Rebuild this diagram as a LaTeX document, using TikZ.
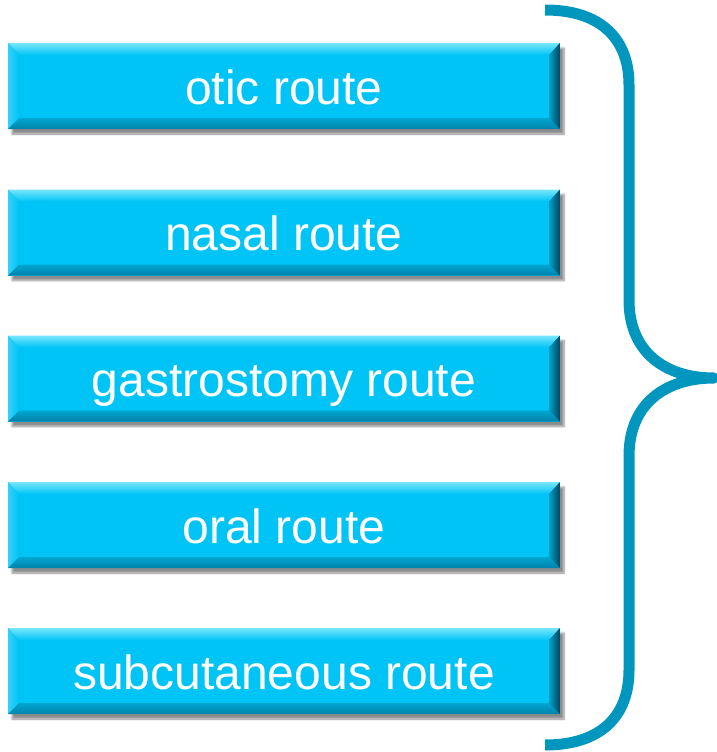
\documentclass[tikz,border=0pt]{standalone}
\usepackage{fontspec}
\setmainfont{Liberation Sans}
\usetikzlibrary{calc,shadows.blur}
\definecolor{boxfill}{RGB}{0,196,246}
\definecolor{boxlight}{RGB}{120,230,252}
\definecolor{boxdark}{RGB}{0,130,170}
\definecolor{boxdeep}{RGB}{0,70,95}
\definecolor{bracecol}{RGB}{0,150,190}
\tikzset{
  routebox/.style={
    minimum width=552pt, minimum height=86pt, inner sep=0pt,
    text height=36pt, text depth=0pt,
    fill=boxfill, text=white, font=\fontsize{48}{50}\selectfont,
    blur shadow={shadow xshift=4pt, shadow yshift=-5pt, shadow blur steps=6, shadow opacity=45},
    path picture={
      \coordinate (nw) at (path picture bounding box.north west);
      \coordinate (ne) at (path picture bounding box.north east);
      \coordinate (sw) at (path picture bounding box.south west);
      \coordinate (se) at (path picture bounding box.south east);
      \shade[top color=boxlight, bottom color=boxfill]
        (nw) -- (ne) -- ($(ne)+(-11pt,-12pt)$) -- ($(nw)+(11pt,-12pt)$) -- cycle;
      \shade[left color=boxfill!80!white, right color=boxfill]
        (nw) -- ($(nw)+(11pt,-12pt)$) -- ($(sw)+(11pt,11pt)$) -- (sw) -- cycle;
      \shade[top color=boxfill!85!black, bottom color=boxdark]
        (sw) -- ($(sw)+(11pt,11pt)$) -- ($(se)+(-11pt,11pt)$) -- (se) -- cycle;
      \shade[left color=boxfill!80!black, right color=boxdeep]
        (ne) -- (se) -- ($(se)+(-11pt,11pt)$) -- ($(ne)+(-11pt,-12pt)$) -- cycle;
    }
  },
  bracestyle/.style={draw=bracecol, line width=11pt, line join=round}
}
\begin{document}
\begin{tikzpicture}[x=1pt,y=-1pt]
\useasboundingbox (0,0) rectangle (717,752);
\node[routebox] (otic) at (284,86) {otic route};
\node[routebox] (nasal) at (284,232.5) {nasal route};
\node[routebox] (gastro) at (284,378.5) {gastrostomy route};
\node[routebox] (oral) at (284,525) {oral route};
\node[routebox] (subcut) at (284,671) {subcutaneous route};
\coordinate (btop) at (545,10);
\coordinate (btip) at (714,378);
\coordinate (bbot) at (545,745);
\path[bracestyle] (btop) .. controls (600,10) and (629,38) .. (629,85)
  -- (629,300) .. controls (629,352) and (665,378) .. (btip)
  .. controls (665,378) and (629,404) .. (629,456)
  -- (629,670) .. controls (629,717) and (600,745) .. (bbot);
\end{tikzpicture}
\end{document}
